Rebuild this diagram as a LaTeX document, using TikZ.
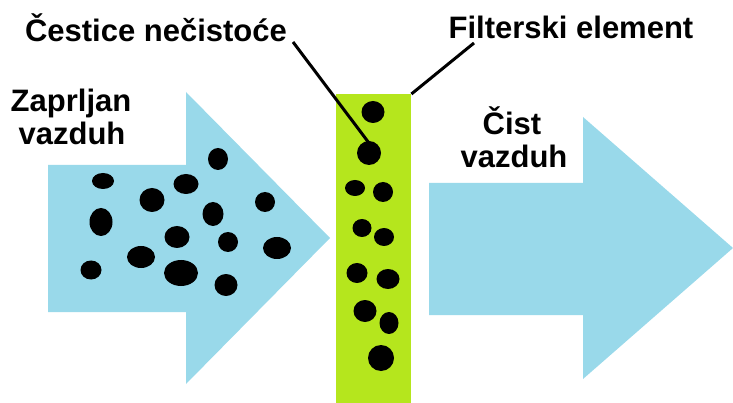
\documentclass[tikz,border=0pt]{standalone}
\usepackage{fontspec}
\setmainfont{Liberation Sans}
\definecolor{airblue}{RGB}{153,217,234}
\definecolor{filtergreen}{RGB}{181,230,29}
\begin{document}
\begin{tikzpicture}[x=1pt,y=-1pt,
  caption/.style={font=\bfseries\fontsize{31}{33}\selectfont, inner sep=0pt, anchor=base},
  leader/.style={draw=black, line width=3pt},
  flow/.style={fill=airblue},
  dirt/.style={fill=black}]
\useasboundingbox (0,0) rectangle (733,403);

% incoming dirty air
\fill[flow] (48,165) -- (186,165) -- (186,92) -- (330,238) -- (186,384)
  -- (186,312) -- (48,312) -- cycle;
% outgoing clean air
\fill[flow] (429,183) -- (583,183) -- (583,117) -- (733,248) -- (583,379)
  -- (583,315) -- (429,315) -- cycle;

% filter element
\node[fill=filtergreen, minimum width=75pt, minimum height=309pt, inner sep=0pt,
  anchor=north west] (filter) at (336,94) {};

% dirt particles in the incoming air
\foreach \px/\py/\rx/\ry in {103/181/11/8, 186/184/12.5/10, 152/200/12.5/12,
    101/222/11.5/14, 177/237/12.5/11, 141/257/14/11, 91/270/10.5/9.5,
    181/273/17/13, 218/159/10/11, 265/202/10/10, 213/214/10.5/12,
    228/242/10/10, 277/248/14/11, 226/285/11.5/11}
  \fill[dirt] (\px,\py) ellipse [x radius={\rx pt}, y radius={\ry pt}];

% particles caught by the filter
\foreach \px/\py/\rx/\ry in {373/112/11.5/11, 369/153/12/12, 355/188/10/8,
    383/192/10/10, 362/228/9.5/9, 384/237/10/9, 357/273/10.5/10,
    388/279/11.5/10, 365/311/11.5/11, 389/323/9.5/11, 381/358/13/13}
  \fill[dirt] (\px,\py) ellipse [x radius={\rx pt}, y radius={\ry pt}];

% labels
\node[caption] (dirtlbl) at (156,42) {Čestice nečistoće};
\node[caption] (filterlbl) at (571,39) {Filterski element};
\node[caption] (inlbl1) at (71,112) {Zaprljan};
\node[caption] (inlbl2) at (72,145) {vazduh};
\node[caption] (outlbl1) at (512,135) {Čist};
\node[caption] (outlbl2) at (514,168) {vazduh};

% leader lines
\coordinate (dirtfoot) at (293,42);
\coordinate (caught) at (372,147);
\coordinate (filterfoot) at (474,43);
\draw[leader] (dirtfoot) -- (caught);
\draw[leader] (filterfoot) -- (filter.north east);
\end{tikzpicture}
\end{document}
